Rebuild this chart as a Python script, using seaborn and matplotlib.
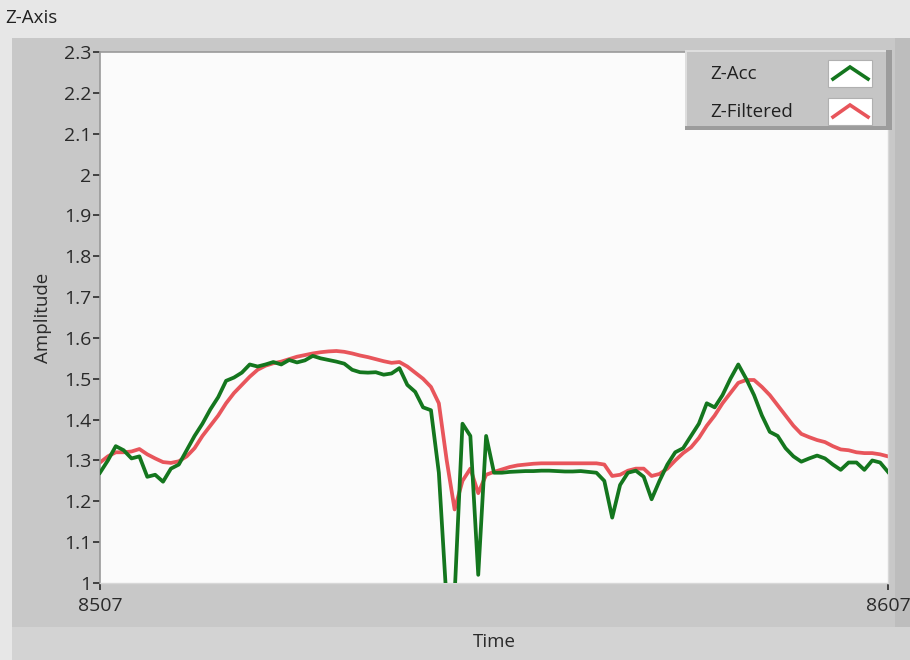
import matplotlib
matplotlib.use("Agg")
import matplotlib.pyplot as plt
from matplotlib.patches import Rectangle
import numpy as np
import pandas as pd
import seaborn as sns

plt.rcParams['font.family'] = ['Open Sans', 'DejaVu Sans']

# ---------------- data ----------------
time = list(range(8507, 8608))

z_acc = [1.27, 1.30, 1.335, 1.325, 1.305, 1.31, 1.26, 1.265, 1.248, 1.28,
         1.29, 1.325, 1.36, 1.39, 1.425, 1.455, 1.495, 1.503, 1.515, 1.535,
         1.53, 1.535, 1.541, 1.535, 1.546, 1.54, 1.545, 1.556, 1.55, 1.546,
         1.542, 1.537, 1.522, 1.516, 1.515, 1.516, 1.51, 1.513, 1.526, 1.485,
         1.468, 1.43, 1.423, 1.27, 0.95, 0.97, 1.39, 1.36, 1.02, 1.36,
         1.27, 1.27, 1.272, 1.273, 1.274, 1.274, 1.275, 1.275, 1.274, 1.273,
         1.273, 1.274, 1.272, 1.27, 1.25, 1.16, 1.24, 1.27, 1.275, 1.26,
         1.205, 1.25, 1.29, 1.32, 1.33, 1.36, 1.39, 1.44, 1.43, 1.46,
         1.50, 1.535, 1.50, 1.46, 1.41, 1.37, 1.36, 1.33, 1.31, 1.297,
         1.305, 1.312, 1.305, 1.29, 1.277, 1.295, 1.295, 1.277, 1.30, 1.295,
         1.272]

z_filtered = [1.295, 1.31, 1.32, 1.32, 1.322, 1.328, 1.315, 1.305, 1.296, 1.294,
              1.298, 1.31, 1.33, 1.36, 1.385, 1.41, 1.44, 1.465, 1.485, 1.505,
              1.522, 1.532, 1.538, 1.542, 1.548, 1.554, 1.558, 1.562, 1.565, 1.567,
              1.568, 1.566, 1.562, 1.557, 1.553, 1.548, 1.543, 1.539, 1.541, 1.53,
              1.515, 1.50, 1.48, 1.44, 1.30, 1.18, 1.25, 1.28, 1.22, 1.265,
              1.272, 1.278, 1.284, 1.288, 1.29, 1.292, 1.293, 1.293, 1.293, 1.293,
              1.293, 1.293, 1.293, 1.293, 1.29, 1.262, 1.265, 1.275, 1.28, 1.28,
              1.262, 1.267, 1.28, 1.30, 1.318, 1.332, 1.355, 1.385, 1.41, 1.44,
              1.465, 1.49, 1.497, 1.497, 1.48, 1.46, 1.435, 1.41, 1.385, 1.365,
              1.357, 1.35, 1.345, 1.335, 1.327, 1.325, 1.32, 1.318, 1.318, 1.315,
              1.31]

series_names = ["Z-Acc", "Z-Filtered"]
series_colors = ["#14761e", "#e8555b"]
y_ticks = [1.0, 1.1, 1.2, 1.3, 1.4, 1.5, 1.6, 1.7, 1.8, 1.9, 2.0, 2.1, 2.2, 2.3]
y_tick_labels = ["1", "1.1", "1.2", "1.3", "1.4", "1.5", "1.6", "1.7", "1.8",
                 "1.9", "2", "2.1", "2.2", "2.3"]
x_ticks = [8507, 8607]

df = pd.DataFrame({
    "Time": time * 2,
    "Amplitude": z_acc + z_filtered,
    "Series": [series_names[0]] * len(time) + [series_names[1]] * len(time),
})

# ---------------- figure ----------------
W, H = 910, 660
fig = plt.figure(figsize=(W / 100, H / 100), dpi=100, facecolor="#e7e7e7")


def fx(x):
    return x / W


def fy(y):
    return 1 - y / H


# gray frame panels (behind the axes)
for (x0, y0, x1, y1, c) in [(12, 38, 910, 627, "#c8c8c8"),
                            (12, 627, 910, 660, "#d3d3d3"),
                            (895, 38, 910, 627, "#bdbdbd")]:
    fig.patches.append(Rectangle((fx(x0), fy(y1)), (x1 - x0) / W, (y1 - y0) / H,
                                 transform=fig.transFigure, facecolor=c,
                                 edgecolor="none", zorder=-5))

fig.text(fx(5), fy(18), "Z-Axis", fontsize=13.5, color="#202020",
         ha="left", va="center")

ax = fig.add_axes([fx(100), fy(583), (888 - 100) / W, (583 - 52) / H])
ax.set_facecolor("#fbfbfb")

sns.lineplot(data=df, x="Time", y="Amplitude", hue="Series",
             hue_order=series_names[::-1],
             palette=dict(zip(series_names, series_colors)),
             linewidth=2.7, ax=ax, legend=False)
# keep green on top
for line in ax.get_lines():
    if matplotlib.colors.to_hex(line.get_color()) == series_colors[0]:
        line.set_zorder(3)
    else:
        line.set_zorder(2)

ax.set_xlim(8507, 8607)
ax.set_ylim(1.0, 2.3)
ax.set_yticks(y_ticks)
ax.set_yticklabels(y_tick_labels)
ax.set_xticks(x_ticks)
ax.set_xticklabels([str(t) for t in x_ticks])
ax.tick_params(axis="both", labelsize=14, colors="#2a2a2a", length=5,
               width=1.2, direction="out", pad=1)
ax.tick_params(axis="x", pad=5)
ax.grid(False)
for side in ["left", "top"]:
    ax.spines[side].set_color("#9a9a9a")
    ax.spines[side].set_linewidth(1.2)
for side in ["right", "bottom"]:
    ax.spines[side].set_color("#d8d8d8")
    ax.spines[side].set_linewidth(1.0)

ax.set_ylabel("Amplitude", fontsize=13.5, color="#2a2a2a", labelpad=9)
ax.set_xlabel("Time", fontsize=13.5, color="#2a2a2a")
ax.xaxis.set_label_coords(0.5, -0.095)

# ---------------- LabVIEW-style legend ----------------
lg = fig.add_axes([fx(685), fy(130), (892 - 685) / W, (130 - 50) / H])
lg.set_xlim(0, 207)
lg.set_ylim(80, 0)
lg.set_facecolor("#c5c5c5")
for side in lg.spines:
    lg.spines[side].set_visible(False)
lg.set_xticks([])
lg.set_yticks([])
lg.add_patch(Rectangle((0, 0), 207, 2, facecolor="#dedede", edgecolor="none"))
lg.add_patch(Rectangle((0, 0), 2, 80, facecolor="#dedede", edgecolor="none"))
lg.add_patch(Rectangle((201, 0), 6, 80, facecolor="#9c9c9c", edgecolor="none"))
lg.add_patch(Rectangle((0, 76), 207, 4, facecolor="#9c9c9c", edgecolor="none"))

rows_y = [24, 62]
for name, col, ry in zip(series_names, series_colors, rows_y):
    lg.text(25, ry, name, fontsize=13.5, color="#202020", ha="left", va="center")
    lg.add_patch(Rectangle((143, ry - 14), 44, 27, facecolor="white",
                           edgecolor="#b0b0b0", linewidth=0.8))
    lg.plot([148, 165, 183], [ry + 5, ry - 7, ry + 5], color=col,
            linewidth=2.6, solid_joinstyle="miter")

fig.savefig("out.png", dpi=100, facecolor=fig.get_facecolor())
